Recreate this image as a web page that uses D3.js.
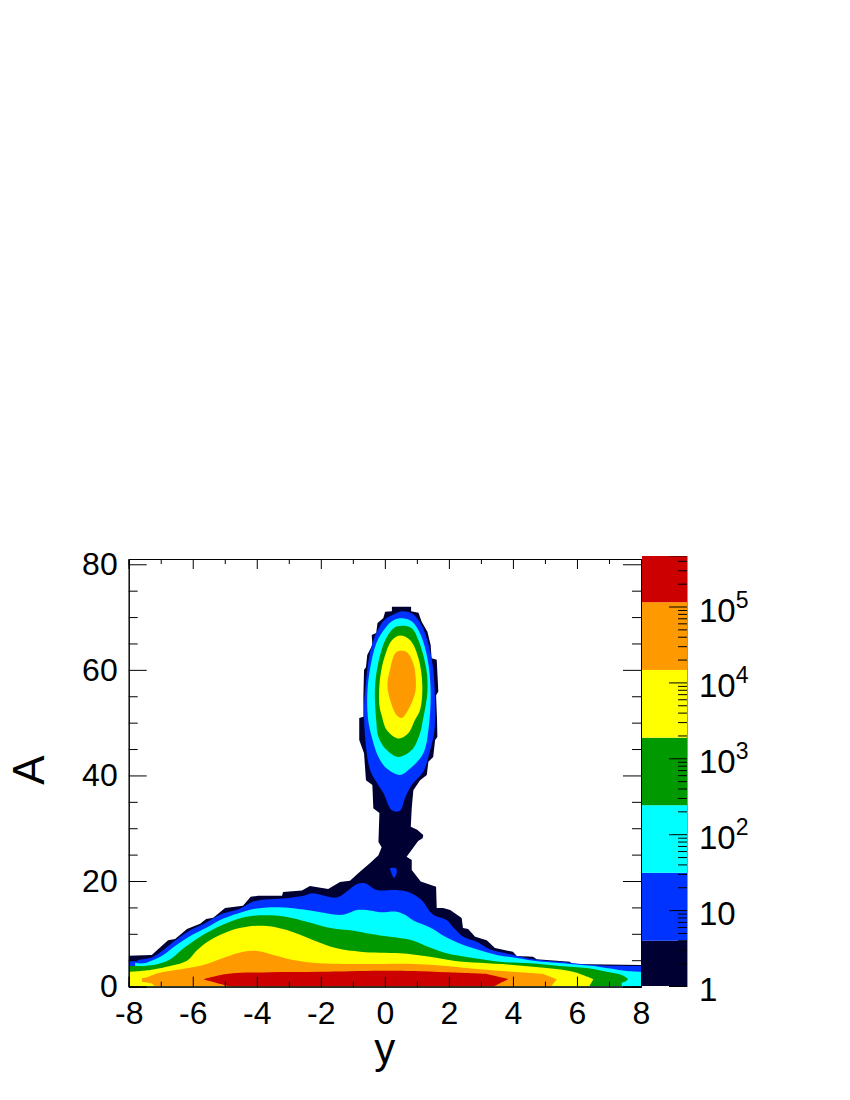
<!DOCTYPE html>
<html>
<head>
<meta charset="utf-8">
<script src="https://cdn.jsdelivr.net/npm/d3@7"></script>
<style>
  body { margin: 0; background: #fff; }
  svg { display: block; }
  text { font-family: "Liberation Sans", Arial, sans-serif; fill: #000; }
  .tick line, .domain { stroke: #000; }
</style>
</head>
<body>
<svg id="chart" width="850" height="1100"></svg>
<script>
// contour levels
const levelEdges = [1, 3.95, 31, 241, 1870, 14600, 114000, 463000];
const levelColors = ["#000033", "#0033ff", "#00ffff", "#009900", "#ffff00", "#ff9900", "#cc0000"];

const xMajor = [-8, -6, -4, -2, 0, 2, 4, 6, 8];
const xMinor = [-7, -5, -3, -1, 1, 3, 5, 7];
const yMajor = [0, 20, 40, 60, 80];
const yMinor = [5, 10, 15, 25, 30, 35, 45, 50, 55, 65, 70, 75];
const barExponents = [0, 1, 2, 3, 4, 5];

// outlines as [y, A]. a repeated point keeps a sharp corner in the curve
const navyOutline = [[-8,0],[-8,5.85],[-7.28,6],[-6.97,7.7],[-6.77,8.8],[-6.55,9],[-6.18,10.9],[-5.77,11.9],[-5.58,12.8],[-5.36,13.05],[-4.99,14.9],[-4.43,15.3],[-4.19,17],[-3.96,17.2],[-3.21,17.2],[-3.18,17.9],[-2.59,18.2],[-2.34,19.05],[-1.77,18.5],[-1.4,19.8],[-1.09,20.05],[-0.77,21.8],[-0.46,23.4],[-0.2,24.9],[-0.1,26.4],[-0.2,27.4],[-0.17,32.9],[-0.36,33.8],[-0.39,38.2],[-0.59,39.1],[-0.65,44.2],[-0.8,46.7],[-0.8,50.9],[-0.67,51.1],[-0.67,55.2],[-0.65,60],[-0.59,60.5],[-0.55,62.8],[-0.39,64.7],[-0.41,66.6],[-0.27,67],[-0.23,68.9],[-0.05,69.8],[0.01,71],[0.22,71.1],[0.22,71.95],[0.82,71.95],[0.82,71.1],[1.05,70.8],[1.15,69.1],[1.33,67.2],[1.43,64.7],[1.46,62.2],[1.62,61.9],[1.67,55.9],[1.6,55.2],[1.63,50.5],[1.64,47.3],[1.57,46.7],[1.51,43.5],[1.36,42.6],[1.31,40.1],[1.1,39.1],[0.89,37.2],[0.84,33.8],[0.81,30.3],[1.01,29.7],[1.2,28.7],[1.18,28.1],[1.04,27.6],[0.68,24.6],[0.84,24],[0.84,22.1],[1.12,19.9],[1.6,18.9],[1.62,14.9],[1.82,14.9],[2.04,14.5],[2.4,13],[2.44,11.1],[2.6,10.9],[2.82,9.45],[3.18,8.8],[3.44,7.3],[4,6.6],[4.12,5.8],[4.63,5.66],[4.74,5.2],[5.78,4.7],[5.84,4.3],[8,4.1],[8,0]];

const blueHump = [[-8,0],[-8,4.9],[-8,4.9],[-7.54,5.17],[-7.23,5.66],[-6.92,6.93],[-6.6,8.5],[-6.13,10.5],[-5.61,12],[-5.15,13.6],[-4.52,14.8],[-4.11,16.1],[-3.74,16.5],[-3.17,16.7],[-2.54,17.2],[-2.28,17.7],[-1.5,16.9],[-1.19,18],[-0.88,19.4],[-0.62,19.6],[-0.25,18.3],[0.37,18.3],[0.79,17.8],[1.15,16.4],[1.41,14.2],[1.57,13.4],[1.93,12.6],[2.14,11.2],[2.45,9.45],[2.87,8.5],[3.28,7.06],[4.01,6],[4.64,5.17],[5.78,4.53],[6.62,4.03],[8,3.9],[8,3.9],[8,0]];
const blueIsland = [[0.16,22.4],[0.35,22.4],[0.37,21.5],[0.29,20.6],[0.18,21.9]];
const blueLobe = [[0.22,33.4],[-0.05,36.7],[-0.25,38.6],[-0.46,41],[-0.6,46.1],[-0.65,52.8],[-0.59,57.7],[-0.46,63.4],[-0.25,67.2],[0.01,69.6],[0.27,70.5],[0.53,71.1],[0.84,70.7],[1.05,69.4],[1.26,66.9],[1.46,62.2],[1.55,57.1],[1.55,48.6],[1.39,44.2],[1.2,40.7],[0.84,38.2],[0.63,35.7],[0.47,33.3]];

const cyanHump = [[-7.8,0],[-7.8,4.53],[-7.8,4.53],[-7.54,4.4],[-7.23,5.04],[-6.92,6],[-6.55,7.7],[-6.08,9.6],[-5.56,11.2],[-5.04,12.9],[-4.42,14.2],[-4,14.8],[-3.69,15],[-3.17,15],[-2.54,14.6],[-1.92,14],[-1.3,13.6],[-0.88,14.5],[-0.57,14.5],[-0.15,14.1],[0.37,14.2],[0.63,13.6],[0.89,12.5],[1.41,11.2],[1.93,9.3],[2.45,7.9],[2.97,6.9],[3.49,6],[4.01,5.5],[4.64,4.9],[5.78,4.3],[6.51,3.9],[7.55,2.95],[8,2.8],[8,2.8],[8,0]];
const cyanLobe = [[0.47,40.1],[0.06,41.3],[-0.2,43.5],[-0.41,47.3],[-0.52,50.5],[-0.55,55.2],[-0.46,60.3],[-0.25,65.3],[0.01,67.9],[0.27,69.4],[0.58,69.75],[0.84,69.2],[1.1,66.9],[1.33,62.2],[1.43,55.9],[1.36,48.6],[1.2,44.2],[0.79,41.3]];

const greenHump = [[-8,0],[-8,3.9],[-8,3.9],[-7.23,4.1],[-6.7,5.17],[-6.29,7.25],[-5.77,9.45],[-5.25,11.2],[-4.62,12.75],[-4.11,13.4],[-3.58,13.5],[-3.06,13.2],[-2.44,12.3],[-1.61,11],[-0.98,10.6],[-0.46,10],[-0.15,9.7],[0.37,9.3],[0.89,8.7],[1.41,7.4],[1.93,6.3],[2.76,5.4],[3.6,4.7],[4.53,4.4],[5.47,3.9],[6.3,3.5],[6.93,2.8],[7.4,2.2],[7.6,1.45],[7.6,1.45],[7.5,0.9],[7.4,0.75],[7.4,0.75],[7.4,0]];
const greenLobe = [[0.42,43.5],[0.06,44.8],[-0.2,47.3],[-0.27,50.5],[-0.31,56.5],[-0.2,61.5],[0.01,65.6],[0.27,67.9],[0.53,68.35],[0.84,67.9],[1.05,65.6],[1.29,60.3],[1.33,55.9],[1.18,50.2],[1.1,48],[0.84,44.8]];

const yellowHump = [[-8,0],[-8,2.8],[-8,2.8],[-7.33,3.15],[-6.81,3.77],[-6.18,4.9],[-5.87,6.9],[-5.46,8.8],[-4.83,10.6],[-4.31,11.35],[-3.69,11.5],[-3.06,10.7],[-2.23,8.8],[-1.5,7.25],[-0.77,6.6],[-0.15,6.4],[0.47,6.3],[1.41,5.66],[2.14,4.9],[2.97,4.5],[4.01,4.1],[5.05,3.5],[5.88,2.8],[6.51,1.4],[6.51,1.4],[6.38,0]];
const yellowLobe = [[0.42,47],[0.06,48.6],[-0.1,51.4],[-0.17,53.3],[-0.15,58.4],[0.01,62.8],[0.22,65.6],[0.47,66.5],[0.79,65.6],[1.05,62.2],[1.17,57.1],[1.1,52.4],[0.94,50.5],[0.73,48]];

const orangeHump = [[-7.17,0],[-7.28,0.62],[-7.28,0.62],[-7.59,0.93],[-7.59,0.93],[-7.59,1.57],[-7.59,1.57],[-7.43,1.76],[-7.12,2.5],[-6.18,3.47],[-5.67,4.1],[-4.94,5.66],[-4.42,6.6],[-4,6.74],[-3.48,6],[-2.86,5.04],[-2.02,4.4],[-0.15,4.28],[0.89,4.28],[1.93,3.9],[2.97,3.27],[4.01,2.8],[4.95,2.4],[4.95,2.4],[5.37,1.4],[5.37,1.4],[5.19,0]];
const orangeLobe = [[0.53,50.9],[0.37,51.4],[0.18,54],[0.08,57.1],[0.16,60],[0.32,63.1],[0.47,63.6],[0.68,63.4],[0.89,61.2],[0.97,57.7],[0.94,55.5],[0.73,52.4]];

const redHump = [[-4.83,0],[-5.67,1.4],[-5.67,1.4],[-4.94,2.4],[-3.58,2.7],[-2.02,2.8],[-0.15,3],[0.89,2.96],[1.93,2.7],[3.18,2.4],[3.18,2.4],[3.86,1.45],[3.86,1.45],[3.39,0]];

const svg = d3.select("#chart");

const x = d3.scaleLinear().domain([-8, 8]).range([128.7, 641]);
const y = d3.scaleLinear().domain([0, 81]).range([986.6, 559]);
const z = d3.scaleLog().domain([1, 463000]).range([986, 556]);

// the lowest level follows the histogram bins, the others are smooth contours
const jagged = d3.line().x(d => x(d[0])).y(d => y(d[1]));
const smoothOpen = d3.line().x(d => x(d[0])).y(d => y(d[1])).curve(d3.curveCatmullRom.alpha(0.5));
const smoothClosed = d3.line().x(d => x(d[0])).y(d => y(d[1])).curve(d3.curveCatmullRomClosed.alpha(0.5));

svg.append("clipPath").attr("id", "plotClip").append("rect")
  .attr("x", x(-8)).attr("y", y(81)).attr("width", x(8) - x(-8)).attr("height", y(0) - y(81));

const plot = svg.append("g").attr("clip-path", "url(#plotClip)");

function fillHump(pts, level) {
  plot.append("path").attr("d", smoothOpen(pts) + "Z").attr("fill", levelColors[level]);
}
function fillLobe(pts, level) {
  plot.append("path").attr("d", smoothClosed(pts)).attr("fill", levelColors[level]);
}

plot.append("path").attr("d", jagged(navyOutline) + "Z").attr("fill", levelColors[0]);
fillHump(blueHump, 1);
fillLobe(blueIsland, 1);
fillLobe(blueLobe, 1);
fillHump(cyanHump, 2);
fillLobe(cyanLobe, 2);
fillHump(greenHump, 3);
fillLobe(greenLobe, 3);
fillHump(yellowHump, 4);
fillLobe(yellowLobe, 4);
fillHump(orangeHump, 5);
fillLobe(orangeLobe, 5);
fillHump(redHump, 6);

// ROOT style frame: ticks point inward on all four sides
const font = 32;
const noLabel = () => "";

function addAxis(axis, tx, ty) {
  const g = svg.append("g").attr("transform", translate(tx, ty)).call(axis);
  g.attr("font-size", font).attr("font-family", null);
  return g;
}

addAxis(d3.axisBottom(x).tickValues(xMajor).tickSize(-10).tickPadding(15).tickFormat(d => String(d)), 0, y(0));
addAxis(d3.axisBottom(x).tickValues(xMinor).tickSize(-5).tickFormat(noLabel), 0, y(0));
addAxis(d3.axisTop(x).tickValues(xMajor).tickSize(-10).tickFormat(noLabel), 0, y(81));
addAxis(d3.axisTop(x).tickValues(xMinor).tickSize(-5).tickFormat(noLabel), 0, y(81));

addAxis(d3.axisLeft(y).tickValues(yMajor).tickSize(-18).tickPadding(11).tickFormat(d => String(d)), x(-8), 0);
addAxis(d3.axisLeft(y).tickValues(yMinor).tickSize(-9).tickFormat(noLabel), x(-8), 0);
addAxis(d3.axisRight(y).tickValues(yMajor).tickSize(-18).tickFormat(noLabel), x(8), 0);
addAxis(d3.axisRight(y).tickValues(yMinor).tickSize(-9).tickFormat(noLabel), x(8), 0);

svg.append("text").attr("text-anchor", "middle").attr("font-size", 42)
  .attr("x", x(0)).attr("y", 1063).text("y");
svg.append("text").attr("text-anchor", "middle").attr("font-size", 44)
  .attr("transform", "translate(44,770) rotate(-90)").text("A");

// colour bar
const barLeft = 642, barRight = 687;
svg.append("g").selectAll("rect").data(levelColors).enter().append("rect")
  .attr("x", barLeft).attr("width", barRight - barLeft)
  .attr("y", (d, i) => z(levelEdges[i + 1]))
  .attr("height", (d, i) => z(levelEdges[i]) - z(levelEdges[i + 1]))
  .attr("fill", d => d);

const decades = barExponents.map(e => Math.pow(10, e));
const barMinor = [];
decades.forEach(d => {
  d3.range(2, 10).forEach(m => {
    if (d * m <= 463000) barMinor.push(d * m);
  });
});

const barAxis = addAxis(d3.axisRight(z).tickValues(decades).tickSize(-18).tickFormat(noLabel), barRight, 0);
barAxis.select(".domain").attr("stroke-opacity", 0.4);
const barAxisMinor = addAxis(d3.axisRight(z).tickValues(barMinor).tickSize(-9).tickFormat(noLabel), barRight, 0);
barAxisMinor.select(".domain").remove();

const barLabels = svg.append("g").attr("font-size", 33).selectAll("text")
  .data(barExponents).enter().append("text")
  .attr("x", 699)
  .attr("y", d => z(Math.pow(10, d)) + 15);

barLabels.filter(d => d === 0).text("1");
barLabels.filter(d => d === 1).text("10");
barLabels.filter(d => d > 1).each(function(d) {
  const t = d3.select(this);
  t.append("tspan").text("10");
  t.append("tspan").attr("font-size", 23).attr("dy", -14).text(d);
});

function translate(x, y) {
  return "translate(" + String(x) + "," + String(y) + ")";
}
</script>
</body>
</html>
